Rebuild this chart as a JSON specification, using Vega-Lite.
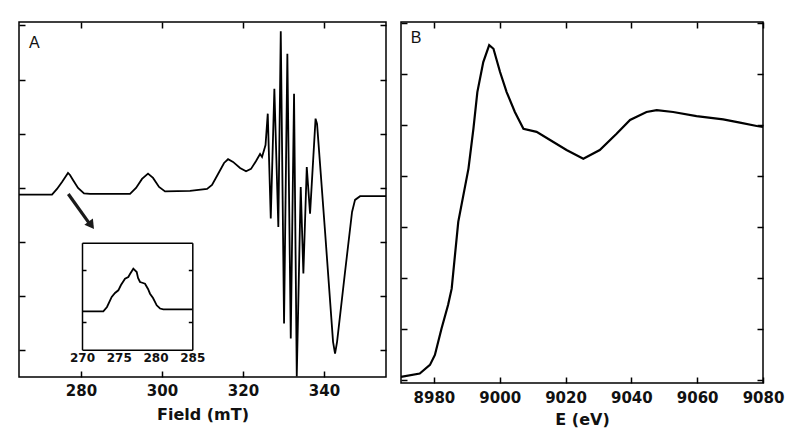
{
  "$schema": "https://vega.github.io/schema/vega-lite/v6.json",
  "background": "white",
  "padding": {"left": 14, "top": 20, "right": 0, "bottom": 0},
  "spacing": 4,
  "datasets": {
    "epr": [
      {"field": 264.7, "signal": -0.124}, {"field": 272.85, "signal": -0.124}, {"field": 274.08, "signal": -0.018},
      {"field": 275.32, "signal": 0.111}, {"field": 276.3, "signal": 0.221}, {"field": 276.8, "signal": 0.277},
      {"field": 277.29, "signal": 0.24}, {"field": 278.03, "signal": 0.148}, {"field": 279.27, "signal": 0.0},
      {"field": 280.75, "signal": -0.101}, {"field": 282.23, "signal": -0.111}, {"field": 292.11, "signal": -0.111},
      {"field": 293.59, "signal": 0.0}, {"field": 295.07, "signal": 0.166}, {"field": 296.55, "signal": 0.264},
      {"field": 297.79, "signal": 0.185}, {"field": 299.27, "signal": 0.018}, {"field": 300.75, "signal": -0.065},
      {"field": 306.92, "signal": -0.055}, {"field": 311.12, "signal": -0.018}, {"field": 312.35, "signal": 0.055},
      {"field": 313.84, "signal": 0.258}, {"field": 315.32, "signal": 0.461}, {"field": 316.31, "signal": 0.53},
      {"field": 317.54, "signal": 0.48}, {"field": 319.27, "signal": 0.369}, {"field": 320.75, "signal": 0.308},
      {"field": 321.98, "signal": 0.351}, {"field": 323.22, "signal": 0.498}, {"field": 324.21, "signal": 0.627},
      {"field": 324.7, "signal": 0.572}, {"field": 325.56, "signal": 0.793}, {"field": 326.11, "signal": 1.371},
      {"field": 326.85, "signal": -0.566}, {"field": 327.74, "signal": 1.832}, {"field": 328.72, "signal": -0.72},
      {"field": 329.32, "signal": 2.891}, {"field": 330.13, "signal": -2.504}, {"field": 330.95, "signal": 2.478},
      {"field": 331.79, "signal": -2.78}, {"field": 332.6, "signal": 1.74}, {"field": 333.27, "signal": -3.48},
      {"field": 334.25, "signal": 0.018}, {"field": 334.9, "signal": -1.581}, {"field": 335.74, "signal": 0.387},
      {"field": 336.55, "signal": -0.474}, {"field": 337.91, "signal": 1.279}, {"field": 338.28, "signal": 1.181},
      {"field": 340.26, "signal": -0.812}, {"field": 342.23, "signal": -2.841}, {"field": 342.72, "signal": -3.057},
      {"field": 343.22, "signal": -2.841}, {"field": 345.19, "signal": -1.55}, {"field": 346.92, "signal": -0.443},
      {"field": 347.66, "signal": -0.221}, {"field": 348.9, "signal": -0.153}, {"field": 355.3, "signal": -0.153}
    ],
    "inset": [
      {"field": 270, "signal": 0.207}, {"field": 272.9, "signal": 0.207}, {"field": 273.4, "signal": 0.29},
      {"field": 274.04, "signal": 0.484}, {"field": 274.49, "signal": 0.561}, {"field": 274.94, "signal": 0.613},
      {"field": 275.3, "signal": 0.716}, {"field": 275.85, "signal": 0.838}, {"field": 276.3, "signal": 0.87},
      {"field": 276.53, "signal": 0.928}, {"field": 276.98, "signal": 1.031}, {"field": 277.44, "signal": 0.967},
      {"field": 277.62, "signal": 0.851}, {"field": 277.89, "signal": 0.774}, {"field": 278.3, "signal": 0.754},
      {"field": 278.57, "signal": 0.741}, {"field": 278.98, "signal": 0.638}, {"field": 279.25, "signal": 0.547},
      {"field": 279.66, "signal": 0.464}, {"field": 280.16, "signal": 0.323}, {"field": 280.61, "signal": 0.261},
      {"field": 281.06, "signal": 0.246}, {"field": 285, "signal": 0.246}
    ],
    "xanes": [
      {"E": 8970, "mu": 0.012}, {"E": 8975.7, "mu": 0.025}, {"E": 8978.8, "mu": 0.059}, {"E": 8980.3, "mu": 0.098},
      {"E": 8982.3, "mu": 0.201}, {"E": 8984.3, "mu": 0.294}, {"E": 8985.4, "mu": 0.358}, {"E": 8986.4, "mu": 0.49},
      {"E": 8987.4, "mu": 0.62}, {"E": 8990.5, "mu": 0.829}, {"E": 8992.0, "mu": 0.985}, {"E": 8993.2, "mu": 1.129},
      {"E": 8995.0, "mu": 1.247}, {"E": 8996.8, "mu": 1.313}, {"E": 8998.1, "mu": 1.299}, {"E": 9000.1, "mu": 1.208},
      {"E": 9002.1, "mu": 1.129}, {"E": 9004.6, "mu": 1.051}, {"E": 9007.2, "mu": 0.985}, {"E": 9011.2, "mu": 0.973},
      {"E": 9015.3, "mu": 0.941}, {"E": 9020.3, "mu": 0.902}, {"E": 9025.4, "mu": 0.868}, {"E": 9030.4, "mu": 0.902},
      {"E": 9035.5, "mu": 0.966}, {"E": 9039.6, "mu": 1.02}, {"E": 9044.6, "mu": 1.051}, {"E": 9047.7, "mu": 1.058},
      {"E": 9052.7, "mu": 1.051}, {"E": 9059.8, "mu": 1.035}, {"E": 9067.9, "mu": 1.022}, {"E": 9073.0, "mu": 1.009},
      {"E": 9078.1, "mu": 0.996}, {"E": 9080, "mu": 0.992}
    ]
  },
  "config": {
    "view": {"stroke": "black", "strokeWidth": 1.5},
    "font": "DejaVu Sans",
    "axis": {
      "grid": false, "domain": false, "domainColor": "black", "domainWidth": 1.5,
      "tickColor": "black", "tickWidth": 1.5, "tickSize": -6,
      "labelColor": "#111", "titleColor": "#111", "labelFont": "DejaVu Sans", "titleFont": "DejaVu Sans",
      "labelFontWeight": "bold", "labelFontSize": 15, "titleFontSize": 16, "titleFontWeight": "bold",
      "labelOverlap": false, "labelFlush": false
    }
  },
  "hconcat": [
    {
      "width": 367,
      "height": 355,
      "resolve": {"scale": {"x": "independent", "y": "independent"}, "axis": {"x": "independent", "y": "independent"}},
      "layer": [
        {
          "data": {"name": "epr"},
          "mark": {"type": "line", "color": "black", "strokeWidth": 1.8},
          "encoding": {
            "x": {"field": "field", "type": "quantitative", "scale": {"domain": [264.7, 355.3], "nice": false, "zero": false},
              "axis": {"orient": "bottom", "values": [280, 300, 320, 340], "labelPadding": 12, "title": "Field (mT)", "titlePadding": 8}},
            "y": {"field": "signal", "type": "quantitative", "scale": {"domain": [-3.49, 3.063], "nice": false, "zero": false},
              "axis": {"orient": "left", "values": [-3, -2, -1, 0, 1, 2, 3], "labels": false, "title": null}}
          }
        },
        {
          "data": {"name": "epr"},
          "mark": {"type": "line", "strokeOpacity": 0},
          "encoding": {
            "x": {"field": "field", "type": "quantitative", "scale": {"domain": [264.7, 355.3], "nice": false, "zero": false},
              "axis": {"orient": "top", "values": [280, 300, 320, 340], "labels": false, "title": null}},
            "y": {"field": "signal", "type": "quantitative", "scale": {"domain": [-3.49, 3.063], "nice": false, "zero": false},
              "axis": {"orient": "right", "values": [-3, -2, -1, 0, 1, 2, 3], "labels": false, "title": null}}
          }
        },
        {
          "data": {"name": "inset"},
          "mark": {"type": "line", "color": "black", "strokeWidth": 1.8},
          "encoding": {
            "x": {"field": "field", "type": "quantitative", "scale": {"domain": [270, 285], "range": [63, 173.3], "nice": false, "zero": false},
              "axis": {"orient": "bottom", "offset": -27.3, "values": [270, 275, 280, 285], "domain": true, "ticks": false, "labelPadding": 3, "labelFontSize": 12, "title": null}},
            "y": {"field": "signal", "type": "quantitative", "scale": {"domain": [-0.536, 1.534], "range": [327.7, 220.7], "nice": false, "zero": false},
              "axis": {"orient": "left", "offset": -63, "values": [0, 1], "domain": true, "tickSize": -4, "labels": false, "title": null}}
          }
        },
        {
          "data": {"name": "inset"},
          "mark": {"type": "line", "strokeOpacity": 0},
          "encoding": {
            "x": {"field": "field", "type": "quantitative", "scale": {"domain": [270, 285], "range": [63, 173.3], "nice": false, "zero": false},
              "axis": {"orient": "top", "offset": -220.7, "domain": true, "ticks": false, "labels": false, "title": null}},
            "y": {"field": "signal", "type": "quantitative", "scale": {"domain": [-0.536, 1.534], "range": [327.7, 220.7], "nice": false, "zero": false},
              "axis": {"orient": "right", "offset": -193.7, "values": [0, 1], "domain": true, "tickSize": -4, "labels": false, "title": null}}
          }
        },
        {
          "data": {"values": [{"x": 276.87, "y": -0.111, "x2": 282.1, "y2": -0.66}]},
          "mark": {"type": "rule", "color": "#1a1a1a", "strokeWidth": 3.2},
          "encoding": {
            "x": {"field": "x", "type": "quantitative", "scale": {"domain": [264.7, 355.3], "nice": false, "zero": false}, "axis": null},
            "y": {"field": "y", "type": "quantitative", "scale": {"domain": [-3.49, 3.063], "nice": false, "zero": false}, "axis": null},
            "x2": {"field": "x2"},
            "y2": {"field": "y2"}
          }
        },
        {
          "data": {"values": [{"x": 282.55, "y": -0.69}]},
          "mark": {"type": "point", "shape": "triangle-down", "filled": true, "color": "#1a1a1a", "opacity": 1, "size": 110, "angle": 324},
          "encoding": {
            "x": {"field": "x", "type": "quantitative", "scale": {"domain": [264.7, 355.3], "nice": false, "zero": false}, "axis": null},
            "y": {"field": "y", "type": "quantitative", "scale": {"domain": [-3.49, 3.063], "nice": false, "zero": false}, "axis": null}
          }
        },
        {
          "data": {"values": [{"x": 268.5, "y": 2.67, "label": "A"}]},
          "mark": {"type": "text", "font": "Liberation Sans", "fontSize": 16, "color": "#111", "align": "center", "baseline": "middle"},
          "encoding": {
            "x": {"field": "x", "type": "quantitative", "scale": {"domain": [264.7, 355.3], "nice": false, "zero": false}, "axis": null},
            "y": {"field": "y", "type": "quantitative", "scale": {"domain": [-3.49, 3.063], "nice": false, "zero": false}, "axis": null},
            "text": {"field": "label"}
          }
        }
      ]
    },
    {
      "width": 362,
      "height": 361,
      "resolve": {"axis": {"x": "independent", "y": "independent"}},
      "layer": [
        {
          "data": {"name": "xanes"},
          "mark": {"type": "line", "color": "black", "strokeWidth": 2.2},
          "encoding": {
            "x": {"field": "E", "type": "quantitative", "scale": {"domain": [8970, 9080], "nice": false, "zero": false},
              "axis": {"orient": "bottom", "values": [8980, 9000, 9020, 9040, 9060, 9080], "format": "d", "labelPadding": 13, "title": "E (eV)", "titlePadding": 6}},
            "y": {"field": "mu", "type": "quantitative", "scale": {"domain": [-0.012, 1.404], "nice": false, "zero": false},
              "axis": {"orient": "left", "values": [0, 0.2, 0.4, 0.6, 0.8, 1.0, 1.2, 1.4], "labels": false, "title": null}}
          }
        },
        {
          "data": {"name": "xanes"},
          "mark": {"type": "line", "strokeOpacity": 0},
          "encoding": {
            "x": {"field": "E", "type": "quantitative",
              "axis": {"orient": "top", "values": [8980, 9000, 9020, 9040, 9060, 9080], "labels": false, "title": null}},
            "y": {"field": "mu", "type": "quantitative",
              "axis": {"orient": "right", "values": [0, 0.2, 0.4, 0.6, 0.8, 1.0, 1.2, 1.4], "labels": false, "title": null}}
          }
        },
        {
          "data": {"values": [{"E": 8974.6, "mu": 1.341, "label": "B"}]},
          "mark": {"type": "text", "font": "Liberation Sans", "fontSize": 16, "color": "#111", "align": "center", "baseline": "middle"},
          "encoding": {
            "x": {"field": "E", "type": "quantitative", "axis": null},
            "y": {"field": "mu", "type": "quantitative", "axis": null},
            "text": {"field": "label"}
          }
        }
      ]
    }
  ]
}
